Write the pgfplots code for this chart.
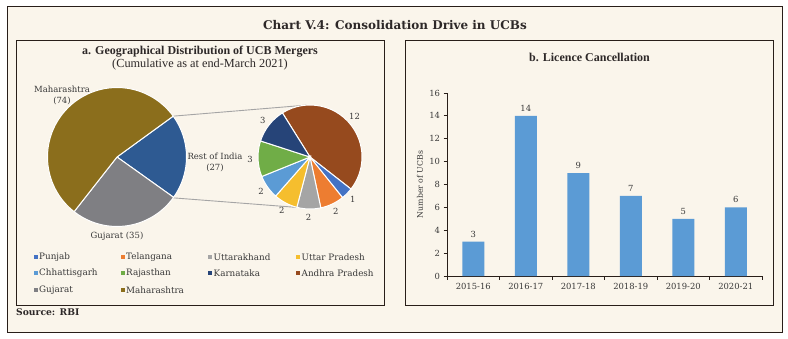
\documentclass[border=0pt]{standalone}
\usepackage{pgfplots}
\pgfplotsset{compat=1.18}
\usetikzlibrary{calc}
\usepackage{fontspec}
\setmainfont{DejaVu Serif}
\newfontfamily\tfont{Liberation Serif}
\definecolor{bg}{RGB}{250,245,235}
\definecolor{frame}{RGB}{40,30,25}
\definecolor{titlec}{RGB}{45,40,40}
\definecolor{txt}{RGB}{55,55,55}
\definecolor{lgray}{RGB}{165,165,165}
\definecolor{cRest}{HTML}{2E5A92}
\definecolor{cGuj}{HTML}{7F7F83}
\definecolor{cMah}{HTML}{8B6E1C}
\definecolor{cPun}{HTML}{4472C4}
\definecolor{cTel}{HTML}{ED7D31}
\definecolor{cUtk}{HTML}{A5A5A5}
\definecolor{cUP}{HTML}{F5BE2E}
\definecolor{cChh}{HTML}{5B9BD5}
\definecolor{cRaj}{HTML}{70AD47}
\definecolor{cKar}{HTML}{264478}
\definecolor{cAP}{HTML}{964A1E}
\definecolor{barc}{HTML}{5B9BD5}
\begin{document}
\begin{tikzpicture}[x=1pt,y=1pt]
\useasboundingbox (0,0) rectangle (788,338);
\fill[white] (0,0) rectangle (788,338);
\filldraw[fill=bg, draw=frame, line width=1pt] (7,6) rectangle (782,331);
\draw[frame, line width=0.9pt] (16,33) rectangle (384,298);
\draw[frame, line width=0.9pt] (405,33) rectangle (773,297.5);
\node[font=\bfseries\fontsize{12}{14}\selectfont, text=titlec] at (395,313) {Chart V.4: Consolidation Drive in UCBs};
\node[anchor=west, font=\bfseries\fontsize{9.2}{10}\selectfont, text=titlec, inner sep=0pt] at (16,26.3) {Source: RBI};
\node[font=\tfont\bfseries\fontsize{12}{14}\selectfont, text=titlec] at (200,286) {a. Geographical Distribution of UCB Mergers};
\node[font=\tfont\fontsize{12.3}{14}\selectfont, text=titlec] at (200,273) {(Cumulative as at end-March 2021)};
\node[font=\tfont\bfseries\fontsize{12}{14}\selectfont, text=titlec] at (589.5,281) {b. Licence Cancellation};
% connector lines
\draw[lgray, line width=0.9pt] ($(117,181)+(36:69.5)$) -- ($(310,181)+(94:52)$);
\draw[lgray, line width=0.9pt] ($(117,181)+(-36:69.5)$) -- ($(310,181)+(-104:52)$);
% main pie (Rest of India 27, Gujarat 35, Maharashtra 74)
\def\cur{36}
\foreach \v/\c in {27/cRest,35/cGuj,74/cMah}{
  \pgfmathsetmacro\en{\cur-\v/136*360}
  \fill[\c, draw=white, line width=1pt] (117,181) -- ++(\cur:69.5) arc[start angle=\cur, end angle=\en, radius=69.5] -- cycle;
  \xdef\cur{\en}
}
% small pie (Rest of India breakdown, total 27)
\def\cur{122}
\foreach \v/\c in {12/cAP,1/cPun,2/cTel,2/cUtk,2/cUP,2/cChh,3/cRaj,3/cKar}{
  \pgfmathsetmacro\en{\cur-\v/27*360}
  \pgfmathsetmacro\md{(\cur+\en)/2}
  \fill[\c, draw=white, line width=1pt] (310,181) -- ++(\cur:52) arc[start angle=\cur, end angle=\en, radius=52] -- cycle;
  \path (310,181) ++(\md:60) node[font=\fontsize{8.4}{9}\selectfont, text=txt] {\v};
  \xdef\cur{\en}
}
\node[font=\fontsize{8.5}{10.5}\selectfont, text=txt, align=center] at (62,242.5) {Maharashtra\\(74)};
\node[font=\fontsize{8.5}{10.5}\selectfont, text=txt, align=center] at (215,175.5) {Rest of India\\(27)};
\node[font=\fontsize{8.5}{10}\selectfont, text=txt] at (117,102) {Gujarat (35)};
% legend
\foreach \x/\y/\c/\t in {35.5/81/cPun/Punjab, 122.5/81/cTel/Telangana, 210/81/cUtk/Uttarakhand, 298/81/cUP/Uttar Pradesh,
  35.5/65/cChh/Chhattisgarh, 122.5/65/cRaj/Rajasthan, 210/65/cKar/Karnataka, 298/65/cAP/Andhra Pradesh,
  35.5/48/cGuj/Gujarat, 122.5/48/cMah/Maharashtra}{
  \fill[\c] (\x-2,\y-2) rectangle (\x+2,\y+2);
  \node[anchor=west, inner sep=0pt, font=\fontsize{8.8}{9}\selectfont, text=txt] at (\x+3.5,\y) {\t};
}
\begin{axis}[at={(447pt,62pt)}, anchor=south west, scale only axis,
  width=315pt, height=183pt,
  xmin=-0.5, xmax=5.5, ymin=0, ymax=16,
  ytick={0,2,...,16}, xtick={0,...,5},
  xticklabels={2015-16,2016-17,2017-18,2018-19,2019-20,2020-21},
  minor xtick={-0.5,0.5,...,5.5},
  axis lines=left, axis line style={-, draw=frame, line width=0.8pt},
  tick align=outside, major tick length=3.5pt, minor tick length=3.5pt,
  tick style={draw=frame, line width=0.8pt},
  major x tick style={draw=none},
  ticklabel style={font=\fontsize{8.4}{9}\selectfont, text=txt},
  /pgf/number format/assume math mode=true,
  ylabel={Number of UCBs},
  ylabel style={font=\fontsize{7.8}{9}\selectfont, text=txt, at={(axis description cs:-0.086,0.5)}, anchor=center},
  ybar, bar width=22pt,
  nodes near coords,
  nodes near coords style={font=\fontsize{8.4}{9}\selectfont, text=txt, yshift=1pt},
  clip=false]
\addplot[fill=barc, draw=none] coordinates {(0,3) (1,14) (2,9) (3,7) (4,5) (5,6)};
\end{axis}
\end{tikzpicture}
\end{document}
